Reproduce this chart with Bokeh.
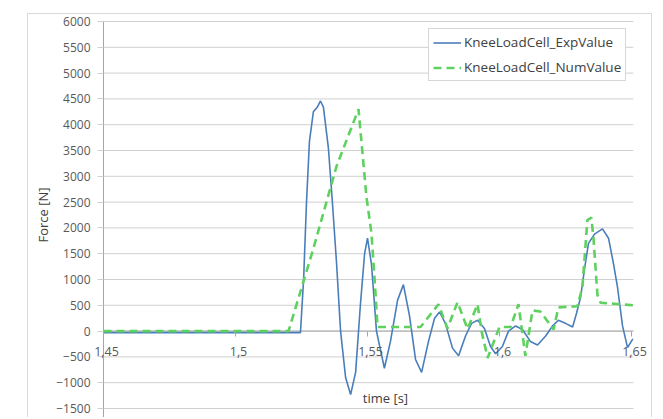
import math
from bokeh.plotting import figure
from bokeh.models import (Range1d, FixedTicker, Legend, LegendItem, Label, ColumnDataSource)
from bokeh.embed import file_html
from bokeh.resources import INLINE

# ---- data ----
exp_t = [1.4500, 1.5246, 1.5258, 1.5269, 1.5280, 1.5295, 1.5311, 1.5322, 1.5333, 1.5352,
         1.5367, 1.5383, 1.5398, 1.5417, 1.5436, 1.5455, 1.5473, 1.5489, 1.5500, 1.5515,
         1.5534, 1.5564, 1.5587, 1.5614, 1.5636, 1.5659, 1.5682, 1.5705, 1.5731, 1.5754,
         1.5773, 1.5795, 1.5822, 1.5845, 1.5871, 1.5894, 1.5917, 1.5943, 1.5966, 1.5985,
         1.6011, 1.6034, 1.6061, 1.6087, 1.6117, 1.6144, 1.6174, 1.6201, 1.6223, 1.6250,
         1.6277, 1.6292, 1.6307, 1.6322, 1.6337, 1.6360, 1.6390, 1.6413, 1.6432, 1.6447,
         1.6466, 1.6485, 1.6505]
exp_f = [-30, -30, 1000, 2500, 3670, 4250, 4350, 4460, 4340, 3540,
         2500, 1300, 0, -900, -1230, -800, 500, 1500, 1800, 1300,
         0, -720, -200, 600, 900, 300, -550, -800, -200, 250,
         370, 150, -330, -480, -100, 150, 210, 50, -300, -440,
         -300, 0, 100, 30, -200, -270, -100, 100, 210, 150,
         80, 350, 650, 1200, 1700, 1880, 1980, 1800, 1300, 850,
         100, -320, -150]

num_t = [1.4500, 1.5201, 1.5295, 1.5383, 1.5466, 1.5496, 1.5515, 1.5527, 1.5538, 1.5701,
         1.5769, 1.5803, 1.5841, 1.5879, 1.5917, 1.5932, 1.5955, 1.6000, 1.6042, 1.6072,
         1.6098, 1.6125, 1.6155, 1.6205, 1.6223, 1.6295, 1.6314, 1.6333, 1.6348, 1.6356,
         1.6371, 1.6383, 1.6458, 1.6505]
num_f = [0, 0, 1600, 3200, 4300, 2600, 1900, 1000, 80, 80,
         520, 50, 560, 40, 520, 0, -520, 80, 80, 520,
         -480, 400, 380, 30, 460, 480, 850, 2150, 2200, 1800,
         700, 550, 520, 500]

x_ticks = [1.45, 1.5, 1.55, 1.6, 1.65]
x_tick_labels = ["1,45", "1,5", "1,55", "1,6", "1,65"]
y_ticks = [-1500, -1000, -500, 0, 500, 1000, 1500, 2000, 2500, 3000, 3500, 4000, 4500, 5000, 5500, 6000]

X_MIN, X_MAX = 1.45, 1.65
GRID_END = 1.6507
Y_LO, Y_HI = -1694, 6097

FONT = "Open Sans"
TXT = "#404040"
TICK = "#595959"
GRID = "#d0d0d0"
AXIS = "#a6a6a6"

p = figure(width=625, height=404, output_backend="svg", toolbar_location=None,
           x_range=Range1d(1.42235, 1.65644), y_range=Range1d(Y_LO, Y_HI),
           min_border_left=2, min_border_right=5, min_border_top=2, min_border_bottom=0,
           margin=(13, 0, 0, 27),
           styles={"border": "1px solid #d9d9d9", "border-bottom": "none"})
p.outline_line_color = None
p.background_fill_color = "white"
p.border_fill_color = "white"

# horizontal gridlines only over the plot area
p.xgrid.visible = False
p.ygrid.visible = False
p.segment(x0=[X_MIN] * len(y_ticks), x1=[GRID_END] * len(y_ticks), y0=y_ticks, y1=y_ticks,
          line_color=GRID, line_width=1)
# axis lines limited to the plot area
p.segment(x0=[X_MIN], x1=[GRID_END], y0=[0], y1=[0], line_color=AXIS, line_width=1)
p.segment(x0=[X_MIN], x1=[X_MIN], y0=[Y_LO], y1=[y_ticks[-1]], line_color=AXIS, line_width=1)

# x axis crossing at y = 0 (ticks only)
xa = p.xaxis[0]
xa.fixed_location = 0
xa.ticker = FixedTicker(ticks=x_ticks)
xa.axis_line_color = None
xa.major_tick_line_color = AXIS
xa.major_tick_out = 5
xa.major_tick_in = 0
xa.minor_tick_line_color = None
xa.major_label_text_color = None

for t, lab in zip(x_ticks, x_tick_labels):
    p.add_layout(Label(x=t, y=0, text=lab, x_offset=3, y_offset=-20,
                       text_font=FONT, text_font_size="12.5px", text_color=TICK,
                       text_align="center", text_baseline="middle"))

# y axis at x = 1.45
ya = p.yaxis[0]
ya.fixed_location = X_MIN
ya.ticker = FixedTicker(ticks=y_ticks)
ya.axis_line_color = None
ya.major_tick_line_color = GRID
ya.major_tick_out = 6
ya.major_tick_in = 0
ya.minor_tick_line_color = None
ya.major_label_text_font = FONT
ya.major_label_text_font_size = "12px"
ya.major_label_text_color = TICK
ya.major_label_standoff = 7
ya.axis_label = None

p.add_layout(Label(x=1.4269, y=2250, text="Force [N]", angle=math.pi / 2,
                   text_font=FONT, text_font_size="13px", text_color=TXT,
                   text_align="center", text_baseline="middle"))

src_e = ColumnDataSource(dict(t=exp_t, f=exp_f))
src_n = ColumnDataSource(dict(t=num_t, f=num_f))
r_exp = p.line("t", "f", source=src_e, line_color="#4a7ebb", line_width=1.6)
r_num = p.line("t", "f", source=src_n, line_color="#5ed15e", line_width=2.6, line_dash="8 5")

p.add_layout(Label(x=1.5568, y=-1300, text="time [s]", text_font=FONT, text_font_size="13px",
                   text_color=TXT, text_align="center", text_baseline="middle"))

legend = Legend(items=[LegendItem(label="KneeLoadCell_ExpValue", renderers=[r_exp]),
                       LegendItem(label="KneeLoadCell_NumValue", renderers=[r_num])],
                location=(398, 337))
legend.border_line_color = "#b0b0b0"
legend.border_line_width = 1
legend.background_fill_color = "white"
legend.background_fill_alpha = 1
legend.label_text_font = FONT
legend.label_text_font_size = "13.5px"
legend.label_text_color = TXT
legend.glyph_width = 28
legend.label_standoff = 3
legend.padding = 4
legend.spacing = 7
legend.margin = 0
legend.label_height = 17
legend.glyph_height = 17
p.add_layout(legend, "center")

open("out.html", "w").write(file_html(p, INLINE))
